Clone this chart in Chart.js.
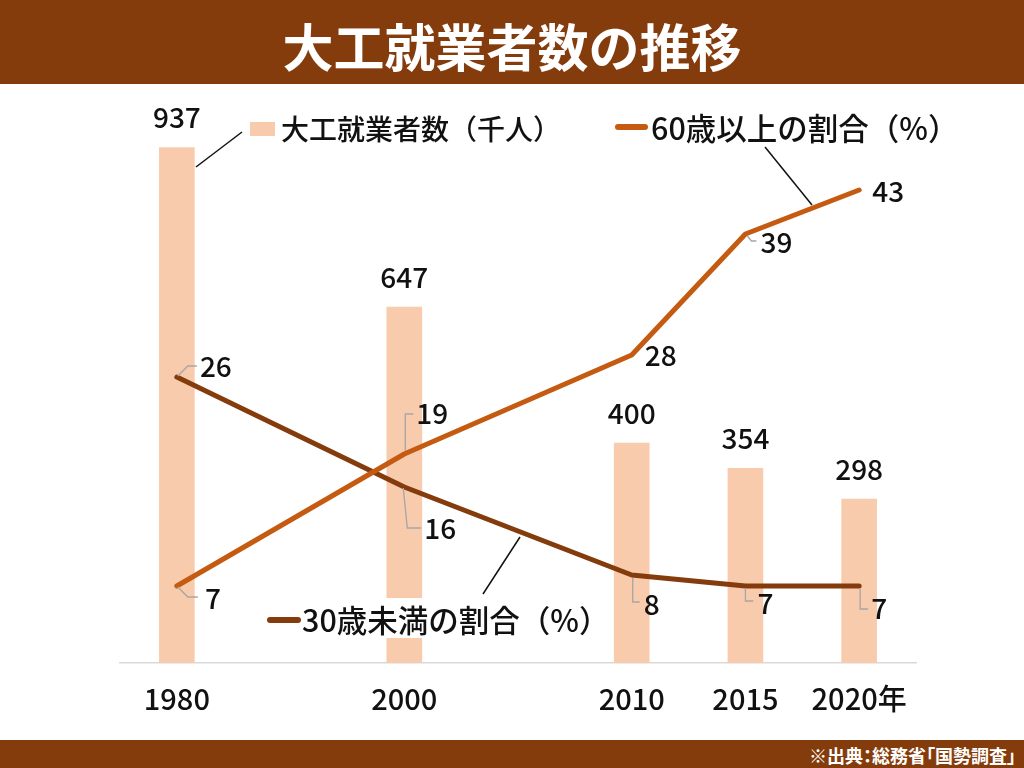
<!DOCTYPE html>
<html><head><meta charset="utf-8">
<script src="https://cdn.jsdelivr.net/npm/chart.js@4"></script>
<style>
html,body{margin:0;padding:0;background:#fff;width:1024px;height:768px;overflow:hidden;font-family:"Noto Sans CJK JP",sans-serif;}
#hdr{position:absolute;left:0;top:0;width:1024px;height:84px;background:#843C0C;color:#fff;font-weight:bold;font-size:51px;text-align:center;line-height:90px;}
#wrap{position:absolute;left:0;top:84px;width:1024px;height:656px;}
#ftr{position:absolute;left:0;top:740px;width:1024px;height:28px;background:#843C0C;color:#fff;font-weight:bold;font-size:18px;text-align:right;line-height:30px;font-feature-settings:"palt";}
#ftr span{padding-right:8px}
</style></head>
<body>
<div id="hdr">大工就業者数の推移</div>
<div id="wrap"><canvas id="c"></canvas></div>
<div id="ftr"><span>※出典：総務省「国勢調査」</span></div>
<script>
// ---- data ----
const categories = ["1980", "", "2000", "", "2010", "2015", "2020年"];
const workers = [937, null, 647, null, 400, 354, 298];
const over60 = [7, null, 19, null, 28, 39, 43];
const under30 = [26, null, 16, null, 8, 7, 7];
const seriesNames = ["大工就業者数（千人）", "60歳以上の割合（%）", "30歳未満の割合（%）"];

// ---- styles ----
const BAR_COLOR = '#F8CBAD';
const C60 = '#C55A11';
const C30 = '#843C0C';
const FONT = '"Noto Sans CJK JP", sans-serif';
const TOP = 84; // canvas offset on page

// label offsets relative to data point (text centre) + leader path
const off60 = {
  0: {dx: 36, dy: 12, lead: [[1, 1], [11, 11], [21, 11]]},
  2: {dx: 28, dy: -41, lead: [[1, -3], [1, -40], [9, -40]]},
  4: {dx: 29, dy: 0},
  5: {dx: 31, dy: 8, lead: [[2, 2], [6, 7], [11, 7]]},
  6: {dx: 29, dy: 1}
};
const off30 = {
  0: {dx: 39, dy: -11, lead: [[1, -1], [11, -11], [20, -11]]},
  2: {dx: 36, dy: 41, lead: [[-1, 1], [3, 41], [17, 41]]},
  4: {dx: 20, dy: 29, lead: [[1, 3], [1, 27], [8, 27]]},
  5: {dx: 20, dy: 17, lead: [[0, 2], [0, 15], [8, 15]]},
  6: {dx: 20, dy: 22, lead: [[1, 3], [1, 23], [9, 23]]}
};

const annot = {
  id: 'annot',
  afterDatasetsDraw(chart) {
    const ctx = chart.ctx;
    ctx.save();
    ctx.fillStyle = '#111';
    ctx.textBaseline = 'middle';
    ctx.font = '500 28px ' + FONT;
    // bar labels
    ctx.textAlign = 'center';
    chart.getDatasetMeta(0).data.forEach((el, i) => {
      if (workers[i] == null) return;
      ctx.fillText(String(workers[i]), el.x, el.y - 30);
    });
    // line labels
    const doLine = (dsIndex, values, offs) => {
      chart.getDatasetMeta(dsIndex).data.forEach((el, i) => {
        if (values[i] == null) return;
        const o = offs[i];
        if (o.lead) {
          ctx.strokeStyle = '#A6A6A6';
          ctx.lineWidth = 1.3;
          ctx.beginPath();
          o.lead.forEach((p, k) => {
            if (k === 0) ctx.moveTo(el.x + p[0], el.y + p[1]);
            else ctx.lineTo(el.x + p[0], el.y + p[1]);
          });
          ctx.stroke();
        }
        ctx.textAlign = 'center';
        ctx.fillStyle = '#111';
        ctx.fillText(String(values[i]), el.x + o.dx, el.y + o.dy);
      });
    };
    doLine(1, over60, off60);
    doLine(2, under30, off30);

    // legends
    const Y = (y) => y - TOP;
    ctx.textAlign = 'left';
    // legend 1 (bars)
    ctx.font = '500 28px ' + FONT;
    ctx.strokeStyle = '#111';
    ctx.lineWidth = 1.5;
    ctx.beginPath(); ctx.moveTo(196, Y(167)); ctx.lineTo(242, Y(132)); ctx.stroke();
    ctx.fillStyle = BAR_COLOR;
    ctx.fillRect(250, Y(122), 25, 14);
    ctx.fillStyle = '#111';
    ctx.fillText(seriesNames[0], 281, Y(129));
    // legend 2 (60+)
    ctx.font = '500 30.5px ' + FONT;
    ctx.beginPath(); ctx.moveTo(765, Y(147)); ctx.lineTo(812, Y(205)); ctx.stroke();
    ctx.strokeStyle = C60; ctx.lineWidth = 6; ctx.lineCap = 'round';
    ctx.beginPath(); ctx.moveTo(618, Y(127)); ctx.lineTo(645, Y(127)); ctx.stroke();
    ctx.fillText(seriesNames[1], 651, Y(128));
    // legend 3 (under 30)
    ctx.fillStyle = '#fff';
    ctx.fillRect(262, Y(598), 340, 40);
    ctx.strokeStyle = '#111'; ctx.lineWidth = 1.5; ctx.lineCap = 'butt';
    ctx.beginPath(); ctx.moveTo(483, Y(594)); ctx.lineTo(520, Y(537)); ctx.stroke();
    ctx.strokeStyle = C30; ctx.lineWidth = 6; ctx.lineCap = 'round';
    ctx.beginPath(); ctx.moveTo(270, Y(620)); ctx.lineTo(298, Y(620)); ctx.stroke();
    ctx.fillStyle = '#111';
    ctx.fillText(seriesNames[2], 302, Y(620));
    ctx.restore();
  }
};

new Chart(document.getElementById('c'), {
  data: {
    labels: categories,
    datasets: [
      {type: 'bar', label: seriesNames[0], data: workers, backgroundColor: BAR_COLOR,
       barThickness: 35, yAxisID: 'y', order: 3},
      {type: 'line', label: seriesNames[1], data: over60, borderColor: C60, borderWidth: 5,
       pointRadius: 0, spanGaps: true, tension: 0, borderCapStyle: 'round', borderJoinStyle: 'round',
       yAxisID: 'y1', order: 1},
      {type: 'line', label: seriesNames[2], data: under30, borderColor: C30, borderWidth: 5,
       pointRadius: 0, spanGaps: true, tension: 0, borderCapStyle: 'round', borderJoinStyle: 'round',
       yAxisID: 'y1', order: 2}
    ]
  },
  options: {
    responsive: true,
    maintainAspectRatio: false,
    animation: false,
    layout: {padding: {left: 120, right: 108, top: 29, bottom: 0}},
    plugins: {legend: {display: false}, tooltip: {enabled: false}},
    scales: {
      x: {
        type: 'category', offset: true,
        grid: {display: false, drawTicks: false},
        border: {display: true, color: '#D9D9D9', width: 1.5},
        ticks: {padding: 19, color: '#111', font: {size: 29, weight: '500', family: FONT}, autoSkip: false, maxRotation: 0},
        afterFit(s) { s.height = 77; }
      },
      y: {display: false, min: 0, max: 1000},
      y1: {display: false, min: 0, max: 50}
    }
  },
  plugins: [annot]
});
</script>
</body></html>
